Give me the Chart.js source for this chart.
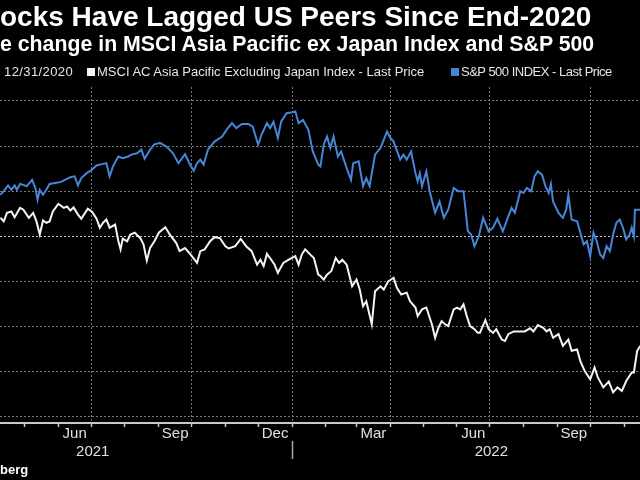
<!DOCTYPE html>
<html>
<head>
<meta charset="utf-8">
<script src="https://cdn.jsdelivr.net/npm/chart.js@4/dist/chart.umd.min.js"></script>
<style>
  body { margin: 0; background: #000; width: 640px; height: 480px; overflow: hidden; position: relative; }
  #chart { position: absolute; left: 0; top: 0; }
  .hdr { position: absolute; left: 0; color: #fff; white-space: nowrap; font-family: 'Liberation Sans', Arial, sans-serif; }
  #title { top: 3px; font-size: 28px; line-height: 28px; font-weight: bold; }
  #subtitle { top: 34px; font-size: 21.3px; line-height: 21px; font-weight: bold; }
  #legend { top: 64px; font-size: 13px; line-height: 16px; color: #e6e6e6; }
  #legend .item { position: absolute; top: 0; }
  #legend .sw { display: inline-block; width: 8px; height: 8px; margin-right: 2px; vertical-align: 0px; }
  #source { top: 463px; font-size: 13px; line-height: 13px; font-weight: bold; }
</style>
</head>
<body>
<canvas id="chart" width="640" height="480"></canvas>
<div class="hdr" id="title">ocks Have Lagged US Peers Since End-2020</div>
<div class="hdr" id="subtitle">e change in MSCI Asia Pacific ex Japan Index and S&amp;P 500</div>
<div class="hdr" id="legend"></div>
<div class="hdr" id="source">berg</div>
<script>
// days counted from 12/31/2020, % change since that date
const seriesNames = ['MSCI AC Asia Pacific Excluding Japan Index - Last Price', 'S&P 500 INDEX - Last Price'];
const seriesColors = ['#f4f4f4', '#4785d6'];
const legendPrefix = '12/31/2020';

const asiaDay = [
    99, 102, 105, 109, 112, 117, 120, 125, 129, 132,
    135, 138, 141, 144, 147, 152, 157, 160, 163, 166,
    170, 173, 179, 183, 187, 190, 193, 196, 199, 204,
    207, 209, 211, 215, 218, 222, 227, 230, 233, 236,
    240, 244, 245, 250, 254, 260, 263, 268, 273, 279,
    282, 286, 291, 295, 300, 305, 308, 314, 319, 324,
    329, 334, 337, 340, 343, 347, 350, 353, 358, 363,
    366, 369, 372, 375, 378, 382, 386, 390, 392, 395,
    398, 402, 406, 409, 412, 416, 421, 425, 428, 431,
    434, 439, 442, 447, 450, 454, 459, 462, 466, 471,
    474, 479, 481, 485, 489, 494, 497, 500, 503, 506,
    509, 514, 517, 520, 523, 526, 529, 533, 536, 538,
    543, 546, 550, 553, 558, 561, 564, 569, 575, 579,
    584, 587, 591, 596, 599, 602, 605, 610, 614, 619,
    622, 627, 630, 634, 639, 643, 646, 651, 656, 660,
    664, 668, 672, 677, 679, 682, 685
];
const asiaPct = [
    4.1, 3.3, 5.2, 5.5, 4.2, 6.3, 5.9, 4.1, 5.2, 3.3,
    0.4, 3.5, 3.0, 3.3, 5.5, 7.2, 6.3, 6.6, 5.7, 6.4,
    4.8, 3.9, 6.1, 5.4, 3.9, 1.9, 3.0, 3.7, 1.9, 2.6,
    -1.1, -2.9, -0.5, -1.1, 0.4, 0.8, -0.4, -1.8, -5.4, -2.6,
    -1.1, 0.8, 1.0, 2.0, 0.4, -1.5, -3.3, -2.6, -4.0, -5.9,
    -3.3, -2.9, -1.1, -0.2, -0.4, -2.2, -2.7, -2.2, -0.6, -2.2,
    -3.3, -6.3, -5.2, -6.6, -3.9, -5.2, -6.3, -8.1, -5.9, -5.2,
    -4.8, -4.4, -6.3, -4.0, -2.9, -3.9, -4.8, -8.5, -8.8, -9.6,
    -8.5, -7.7, -4.8, -5.9, -5.2, -6.3, -11.1, -9.6, -11.8, -15.5,
    -14.4, -19.5, -12.2, -11.1, -11.8, -10.0, -9.2, -11.4, -12.9, -12.5,
    -14.4, -15.8, -17.7, -16.2, -15.8, -19.5, -22.5, -20.3, -18.8, -19.5,
    -19.9, -16.2, -15.8, -16.2, -15.1, -17.7, -19.9, -20.6, -21.4, -21.4,
    -18.6, -20.6, -21.4, -20.6, -22.9, -23.2, -21.7, -21.1, -21.1, -21.1,
    -20.4, -21.1, -19.7, -20.3, -21.1, -20.6, -22.5, -21.7, -24.3, -22.9,
    -25.4, -25.1, -27.7, -29.9, -31.7, -29.1, -31.3, -33.5, -32.2, -34.6,
    -33.5, -34.3, -32.1, -30.2, -30.2, -25.4, -24.3
];

const spxDay = [
    99, 102, 106, 109, 112, 114, 117, 120, 123, 128,
    131, 133, 135, 138, 141, 144, 149, 154, 158, 163,
    167, 170, 173, 178, 183, 187, 192, 196, 199, 202,
    207, 211, 216, 219, 224, 228, 231, 236, 240, 245,
    251, 257, 262, 268, 273, 276, 279, 282, 285, 289,
    295, 302, 306, 311, 315, 320, 326, 330, 335, 338,
    343, 346, 349, 353, 356, 361, 366, 369, 372, 376,
    381, 385, 390, 392, 395, 398, 401, 404, 408, 411,
    416, 420, 422, 427, 431, 434, 437, 442, 447, 453,
    456, 459, 465, 468, 471, 475, 479, 481, 483, 485,
    489, 492, 497, 501, 505, 509, 514, 518, 523, 527,
    530, 533, 537, 541, 546, 550, 554, 559, 564, 567,
    570, 575, 578, 581, 585, 588, 591, 595, 598, 601,
    603, 605, 610, 614, 617, 619, 622, 627, 630, 633,
    636, 639, 642, 645, 648, 651, 654, 657, 660, 663,
    666, 669, 672, 675, 677, 679, 680, 683, 685
];
const spxPct = [
    9.2, 10.0, 11.3, 10.3, 11.3, 10.3, 11.6, 11.4, 11.1, 12.5,
    10.7, 8.1, 10.3, 9.2, 10.3, 11.6, 11.8, 12.0, 12.5, 13.1,
    13.3, 11.3, 12.9, 14.0, 14.8, 15.7, 16.0, 16.2, 13.3, 15.5,
    17.7, 17.3, 17.7, 18.1, 18.4, 19.2, 17.2, 19.2, 20.4, 20.7,
    19.9, 18.4, 16.2, 18.2, 15.7, 14.5, 16.2, 17.0, 15.9, 19.2,
    21.0, 22.1, 23.6, 25.1, 24.0, 24.9, 24.9, 24.3, 20.3, 22.5,
    25.1, 24.0, 25.4, 21.8, 25.4, 27.3, 27.5, 27.7, 25.1, 25.8,
    23.6, 18.8, 15.9, 15.5, 20.3, 22.1, 19.6, 22.1, 17.7, 18.8,
    15.1, 12.5, 16.2, 16.6, 11.1, 12.9, 11.1, 18.1, 19.6, 23.2,
    21.8, 21.0, 17.0, 18.1, 17.0, 18.8, 14.0, 12.2, 14.0, 11.1,
    14.4, 10.0, 5.2, 7.7, 4.1, 5.9, 10.7, 10.0, 10.0, 1.1,
    0.4, -2.2, 0.0, 4.1, 1.1, 1.9, 3.9, 1.1, 4.4, 6.3,
    5.2, 10.0, 9.6, 10.7, 10.0, 13.3, 14.4, 13.6, 11.1, 9.6,
    11.6, 7.7, 5.2, 4.1, 5.9, 9.2, 3.7, 3.3, 0.8, -1.8,
    -1.1, -4.4, 0.8, -1.1, -4.0, -4.8, -2.2, -3.3, 0.4, 3.0,
    3.7, 1.9, -0.7, 0.4, 1.9, 0.0, 5.9, 5.9, 5.9
];

const yTicks = [-40, -30, -20, -10, 0, 10, 20, 30];
const monthTickLabels = ['Mar', 'Jun', 'Sep', 'Dec'];
const yearTickLabels = ['2021', '2022'];

// --- x axis helpers (day numbers from the base date)
const dayOf = (y, m, d) => (Date.UTC(y, m, d) - Date.UTC(2020, 11, 31)) / 864e5;
const xMin = 98.6, xMax = 684.6;

const monthStarts = [];
const quarterStarts = [];
const monthLabelAt = new Map();
for (let y = 2021; y <= 2022; y++) {
    for (let m = 0; m < 12; m++) {
        const s = dayOf(y, m, 1);
        monthStarts.push(s);
        if (m % 3 === 0) quarterStarts.push(s);
        if (m % 3 === 2) monthLabelAt.set((s + dayOf(y, m + 1, 1)) / 2, monthTickLabels[(m - 2) / 3]);
    }
}
const yearLabelAt = new Map();
yearTickLabels.forEach((t) => {
    const y = Number(t);
    yearLabelAt.set((dayOf(y, 0, 1) + dayOf(y + 1, 0, 1)) / 2, t);
});
const yearBreaks = [dayOf(2022, 0, 1)];
const inRange = (v) => v >= xMin && v <= xMax;

// --- legend (html)
const legendEl = document.getElementById('legend');
const prefix = document.createElement('span');
prefix.className = 'item';
prefix.style.left = '4px';
prefix.style.letterSpacing = '0.4px';
prefix.textContent = legendPrefix;
legendEl.appendChild(prefix);
const legendX = [87, 451];
const legendSpacing = ['0px', '-0.5px'];
seriesNames.forEach((name, i) => {
    const it = document.createElement('span');
    it.className = 'item';
    it.style.left = legendX[i] + 'px';
    it.style.letterSpacing = legendSpacing[i];
    const sw = document.createElement('span');
    sw.className = 'sw';
    sw.style.background = seriesColors[i];
    it.appendChild(sw);
    it.appendChild(document.createTextNode(name));
    legendEl.appendChild(it);
});

const gridGray = '#777777';
const axisGray = '#c8c8c8';

const config = {
    type: 'line',
    data: {
        datasets: [{
            label: seriesNames[0],
            data: asiaDay.map((d, i) => ({ x: d, y: asiaPct[i] })),
            borderColor: seriesColors[0],
            borderWidth: 2,
            pointRadius: 0,
            fill: false
        }, {
            label: seriesNames[1],
            data: spxDay.map((d, i) => ({ x: d, y: spxPct[i] })),
            borderColor: seriesColors[1],
            borderWidth: 2,
            pointRadius: 0,
            fill: false
        }]
    },
    options: {
        responsive: false,
        animation: false,
        devicePixelRatio: 1,
        layout: {
            padding: { top: 87, left: 0, right: 0, bottom: 17 }
        },
        plugins: {
            legend: { display: false },
            tooltip: { enabled: false }
        },
        scales: {
            x: {
                type: 'linear',
                position: 'bottom',
                weight: 0,
                min: xMin,
                max: xMax,
                afterBuildTicks: (axis) => {
                    axis.ticks = [...monthStarts, ...monthLabelAt.keys()]
                        .filter(inRange)
                        .sort((a, b) => a - b)
                        .map((v) => ({ value: v }));
                },
                afterFit: (axis) => { axis.height = 18; },
                grid: {
                    color: (ctx) => quarterStarts.includes(ctx.tick && ctx.tick.value) ? gridGray : 'transparent',
                    tickColor: (ctx) => monthStarts.includes(ctx.tick && ctx.tick.value) ? axisGray : 'transparent',
                    lineWidth: 1,
                    tickWidth: 1.5,
                    tickLength: 4
                },
                border: { display: true, color: axisGray, width: 2, dash: [2, 2] },
                ticks: {
                    autoSkip: false,
                    maxRotation: 0,
                    padding: -2,
                    color: '#e0e0e0',
                    font: { family: 'Liberation Sans', size: 15 },
                    callback: (v) => monthLabelAt.get(v) || ''
                }
            },
            x2: {
                type: 'linear',
                position: 'bottom',
                weight: 1,
                min: xMin,
                max: xMax,
                afterBuildTicks: (axis) => {
                    axis.ticks = [...yearBreaks, ...yearLabelAt.keys()]
                        .filter(inRange)
                        .sort((a, b) => a - b)
                        .map((v) => ({ value: v }));
                },
                afterFit: (axis) => { axis.height = 22; },
                grid: {
                    drawOnChartArea: false,
                    tickColor: (ctx) => yearBreaks.includes(ctx.tick && ctx.tick.value) ? '#a8a8a8' : 'transparent',
                    tickWidth: 1.5,
                    tickLength: 18
                },
                border: { display: false },
                ticks: {
                    autoSkip: false,
                    maxRotation: 0,
                    padding: -16,
                    color: '#e0e0e0',
                    font: { family: 'Liberation Sans', size: 15 },
                    callback: (v) => yearLabelAt.get(v) || ''
                }
            },
            y: {
                type: 'linear',
                position: 'left',
                min: -41.4,
                max: 33.1,
                afterBuildTicks: (axis) => {
                    axis.ticks = yTicks.map((v) => ({ value: v }));
                },
                afterFit: (axis) => { axis.width = 0; },
                grid: {
                    color: (ctx) => ctx.tick && ctx.tick.value === 0 ? '#c4c4dc' : gridGray,
                    lineWidth: 1,
                    drawTicks: false
                },
                border: { display: false, dash: [2, 2] },
                ticks: { display: false }
            }
        }
    }
};

const myChart = new Chart(document.getElementById('chart'), config);
</script>
</body>
</html>
